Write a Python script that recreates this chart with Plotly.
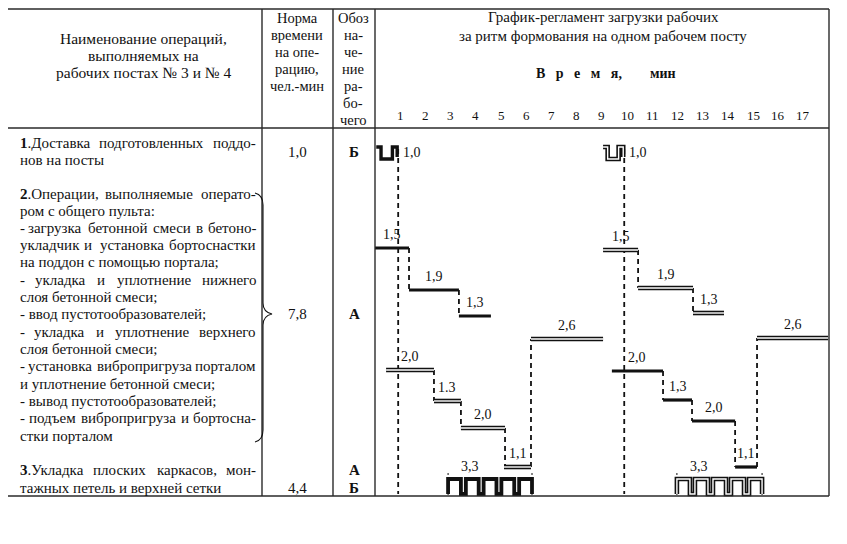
import plotly.graph_objects as go

W, H = 847, 544
OFF = 8   # the page body margin: page px = OFF + figure px

# ------------------------------------------------------------------ data
minute_ticks = list(range(1, 18))

# 1. delivery of pallets (worker Б), two rhythms
delivery_start = [0.05, 9.05]
delivery_end = [0.88, 9.85]
delivery_label = ["1,0", "1,0"]

# 2. operator (worker А) operations, rhythm 1
c1_main_start = [0.00, 1.35, 3.33]
c1_main_end = [1.35, 3.33, 4.60]
c1_main_label = ["1,5", "1,9", "1,3"]

c1_second_start = [0.44, 2.34, 3.41, 5.12, 6.19]
c1_second_end = [2.34, 3.41, 5.16, 6.19, 9.05]
c1_second_label = ["2,0", "1.3", "2,0", "1,1", "2,6"]

# rhythm 2
c2_main_start = [9.05, 10.44, 12.62]
c2_main_end = [10.44, 12.62, 13.85]
c2_main_label = ["1,5", "1,9", "1,3"]

c2_second_start = [9.40, 11.43, 12.58, 14.29, 15.16]
c2_second_end = [11.43, 12.58, 14.29, 15.16, 17.98]
c2_second_label = ["2,0", "1,3", "2,0", "1,1", "2,6"]

# 3. laying of frames (workers А + Б)
frames_start = [2.90, 11.98]
frames_end = [6.23, 15.36]
frames_label = ["3,3", "3,3"]

# table texts
norm_values = ["1,0", "7,8", "4,4"]
worker_codes = ["Б", "А", "А", "Б"]

# ------------------------------------------------------------------ styles / layout positions
X_LEFT, X_RIGHT = 375, 829          # chart column, page px
PX_PER_MIN = 25.2
T_MAX = (X_RIGHT - X_LEFT) / PX_PER_MIN

c1_main_levels = [248, 290, 316]
c1_main_styles = ["single"] * 3
c1_second_levels = [370, 401, 428, 467, 339]
c1_second_styles = ["double"] * 5
c2_main_levels = [250, 288, 313]
c2_main_styles = ["double"] * 3
c2_second_levels = [371, 400, 421, 467, 338]
c2_second_styles = ["single"] * 4 + ["double"]

FONT = "Liberation Serif, Times New Roman, DejaVu Serif, serif"
INK = "#111111"
GRID = "#2a2a2a"

fig = go.Figure()


def seg(x, y, style, width=3.2):
    if style == "single":
        fig.add_trace(go.Scatter(x=x, y=y, mode="lines", line=dict(color=INK, width=width),
                                 hoverinfo="skip", showlegend=False))
    else:
        fig.add_trace(go.Scatter(x=x, y=y, mode="lines", line=dict(color=INK, width=4.6),
                                 hoverinfo="skip", showlegend=False))
        fig.add_trace(go.Scatter(x=x, y=y, mode="lines", line=dict(color="white", width=1.4),
                                 hoverinfo="skip", showlegend=False))


def dashed(x, y, width=1.8, dash="5px,4px"):
    fig.add_trace(go.Scatter(x=x, y=y, mode="lines",
                             line=dict(color=INK, width=width, dash=dash),
                             hoverinfo="skip", showlegend=False))


def label(t, ypx, text, size=14):
    fig.add_annotation(x=t, y=ypx, xref="x", yref="y", text=text, showarrow=False,
                       font=dict(family=FONT, size=size, color=INK),
                       xanchor="center", yanchor="middle")


def chain(starts, ends, labels, levels, styles):
    n = len(starts)
    for i in range(n - 1):
        xc = ends[i]
        dashed([xc, xc], [levels[i], levels[i + 1]])
    for i in range(n):
        seg([starts[i], ends[i]], [levels[i], levels[i]], styles[i])
        label((starts[i] + ends[i]) / 2, levels[i] - 14, labels[i])


def wave(t0, t1, n_high, ratio, top, bot, left_vert, right_to):
    # ratio = plateau width / trough width
    q = (t1 - t0) / (n_high * ratio + (n_high - 1))
    p = ratio * q
    xs, ys = [], []
    if left_vert:
        xs += [t0]
        ys += [bot]
    xs += [t0]
    ys += [top]
    x = t0
    for i in range(n_high):
        x += p
        xs += [x, x]
        ys += [top, bot if i < n_high - 1 else right_to]
        if i < n_high - 1:
            x += q
            xs += [x, x]
            ys += [bot, top]
    return xs, ys


# long dashed lines from delivery to bottom
for e in delivery_end:
    dashed([e + 0.04, e + 0.04], [149, 494])

# delivery symbols
for i in range(len(delivery_start)):
    xs, ys = wave(delivery_start[i], delivery_end[i], 2, 0.42, 147, 159, False, 157)
    seg(xs, ys, "single" if i == 0 else "double", width=3.4)
    label(delivery_end[i] + 0.58, 152, delivery_label[i])

chain(c1_main_start, c1_main_end, c1_main_label, c1_main_levels, c1_main_styles)
chain(c1_second_start, c1_second_end, c1_second_label, c1_second_levels, c1_second_styles)
chain(c2_main_start, c2_main_end, c2_main_label, c2_main_levels, c2_main_styles)
chain(c2_second_start, c2_second_end, c2_second_label, c2_second_levels, c2_second_styles)

# frames laying
for i in range(len(frames_start)):
    dashed([frames_start[i], frames_start[i]], [473, 497], width=1, dash="2px,2px")
    dashed([frames_end[i], frames_end[i]], [473, 497], width=1, dash="2px,2px")
    xs, ys = wave(frames_start[i], frames_end[i], 5, 2.6, 479, 494, True, 494)
    seg(xs, ys, "single" if i == 0 else "double", width=3.8)
    label((frames_start[i] + frames_end[i]) / 2 - 0.8, 466, frames_label[i])

# minute tick labels
for m in minute_ticks:
    label(m, 115, str(m), size=13)

# ------------------------------------------------------------------ table
def hline(x0, x1, y, w=1.4):
    fig.add_shape(type="line", xref="x2", yref="y2", x0=x0, x1=x1, y0=y, y1=y,
                  line=dict(color=GRID, width=w))


def vline(x, y0, y1, w=1.4):
    fig.add_shape(type="line", xref="x2", yref="y2", x0=x, x1=x, y0=y0, y1=y1,
                  line=dict(color=GRID, width=w))


TOP, HEAD, BOT = 9, 128, 496
hline(6, 829, TOP)
hline(6, 829, HEAD)
hline(6, 829, BOT)
for xv in [6, 262, 333, 375, 829]:
    vline(xv, TOP, BOT)

# brace
fig.add_shape(type="path", xref="x2", yref="y2",
              path="M 255 193 Q 263 195 263 205 L 263 303 Q 263 312 272 314 "
                   "Q 263 316 263 325 L 263 430 Q 263 440 255 442",
              line=dict(color=INK, width=1.1))


def txt(x, y, text, size=15, anchor="left", bold=False):
    if bold:
        text = "<b>" + text + "</b>"
    fig.add_annotation(x=x, y=y, xref="x2", yref="y2", text=text, showarrow=False,
                       font=dict(family=FONT, size=size, color=INK),
                       xanchor=anchor, yanchor="middle")


# header
for yy, t in zip([38, 55, 72], ["Наименование операций,", "выполняемых на",
                               "рабочих постах № 3 и № 4"]):
    txt(143, yy, t, anchor="center", size=15.5)
for yy, t in zip([18, 35, 52, 69, 86], ["Норма", "времени", "на опе-", "рацию,", "чел.-мин"]):
    txt(297, yy, t, anchor="center", size=14.5)
for yy, t in zip([18, 35, 52, 69, 86, 103, 120],
                 ["Обоз", "на-", "че-", "ние", "ра-", "бо-", "чего"]):
    txt(353, yy, t, anchor="center", size=14.5)
txt(603, 17, "График-регламент загрузки рабочих", anchor="center", size=15)
txt(603, 36, "за ритм формования на одном рабочем посту", anchor="center", size=15)
NB = "\u00a0"
spaced = (NB * 3).join(list("Время")) + "," + NB * 8 + "мин"
txt(606, 73, spaced, anchor="center", bold=True, size=14)

BODY_SIZE = 15
TEXT_L, TEXT_R = 18, 258
# (y, text, justified)
body = [
    (143, "<b>1</b>.Доставка подготовленных поддо-", True),
    (160, "нов на посты", False),
    (194, "<b>2</b>.Операции, выполняемые операто-", True),
    (211, "ром с общего пульта:", False),
    (228, "- загрузка бетонной смеси в бетоно-", True),
    (245, "укладчик и установка бортоснастки", True),
    (262, "на поддон с помощью портала;", False),
    (280, "- укладка и уплотнение нижнего", True),
    (297, "слоя бетонной смеси;", False),
    (314, "- ввод пустотообразователей;", False),
    (332, "- укладка и уплотнение верхнего", True),
    (349, "слоя бетонной смеси;", False),
    (366, "- установка вибропригруза порталом", True),
    (384, "и уплотнение бетонной смеси;", False),
    (401, "- вывод пустотообразователей;", False),
    (418, "- подъем вибропригруза и бортосна-", True),
    (436, "стки порталом", False),
    (470, "<b>3</b>.Укладка плоских каркасов, мон-", True),
    (488, "тажных петель и верхней сетки", False),
]

# approximate Times-like advance widths (em) used to spread justified lines
EM = {"а": .444, "б": .5, "в": .47, "г": .41, "д": .5, "е": .444, "ж": .69, "з": .39,
      "и": .53, "й": .53, "к": .48, "л": .5, "м": .62, "н": .53, "о": .5, "п": .53,
      "р": .5, "с": .444, "т": .45, "у": .5, "ф": .65, "х": .5, "ц": .53, "ч": .5,
      "ш": .77, "щ": .77, "ъ": .55, "ы": .7, "ь": .47, "э": .44, "ю": .72, "я": .48,
      ".": .25, ",": .25, ";": .28, ":": .28, "-": .33}


def est_w(word):
    plain = word.replace("<b>", "").replace("</b>", "")
    w = 0.0
    for ch in plain:
        if ch in EM:
            w += EM[ch]
        elif ch.isdigit():
            w += 0.5
        elif ch.isupper():
            w += 0.66
        else:
            w += 0.5
    return w * BODY_SIZE


for yy, t, just in body:
    words = t.split(" ")
    widths = [est_w(wd) for wd in words]
    gap = (TEXT_R - TEXT_L - sum(widths)) / max(len(words) - 1, 1)
    if not just or gap < 4.5:
        txt(TEXT_L, yy, t, size=BODY_SIZE)
        continue
    x = TEXT_L
    for i, wd in enumerate(words):
        if i == 0:
            txt(TEXT_L, yy, wd, size=BODY_SIZE, anchor="left")
        elif i == len(words) - 1:
            txt(TEXT_R, yy, wd, size=BODY_SIZE, anchor="right")
        else:
            txt(x + widths[i] / 2, yy, wd, size=BODY_SIZE, anchor="center")
        x += widths[i] + gap

for yy, v in zip([152, 314, 488], norm_values):
    txt(297, yy, v, anchor="center", size=BODY_SIZE)
for yy, v in zip([152, 314, 470, 488], worker_codes):
    txt(354, yy, v, anchor="center", bold=True, size=BODY_SIZE)

# ------------------------------------------------------------------ axes
fig.update_layout(
    width=W, height=H, margin=dict(l=0, r=0, t=0, b=0),
    paper_bgcolor="white", plot_bgcolor="rgba(0,0,0,0)",
    showlegend=False,
    xaxis=dict(domain=[(X_LEFT - OFF) / W, (X_RIGHT - OFF) / W], range=[0, T_MAX],
               visible=False, anchor="y"),
    yaxis=dict(domain=[0, 1], range=[H + OFF, OFF], visible=False, anchor="x"),
    xaxis2=dict(domain=[0, 1], range=[OFF, W + OFF], visible=False, anchor="y2"),
    yaxis2=dict(domain=[0, 1], range=[H + OFF, OFF], visible=False, anchor="x2"),
)

fig.write_html("out.html")
